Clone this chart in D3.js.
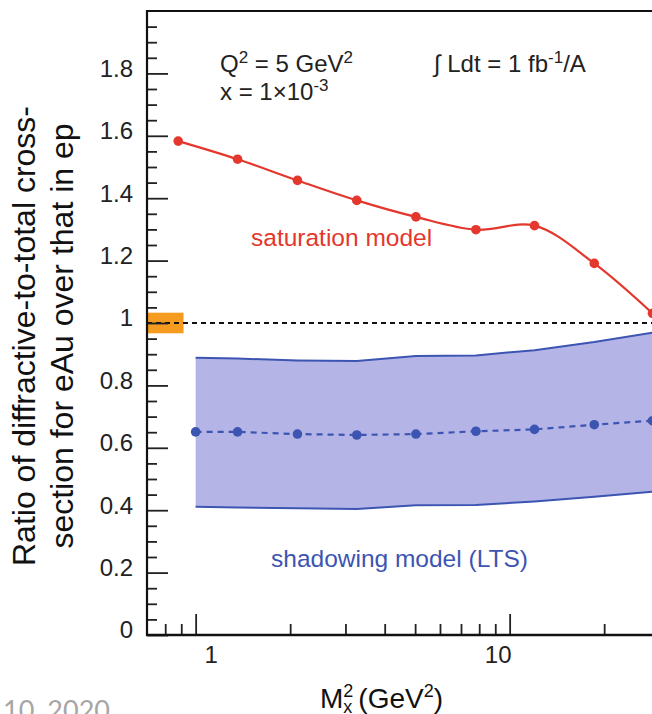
<!DOCTYPE html>
<html>
<head>
<meta charset="utf-8">
<script src="https://cdn.jsdelivr.net/npm/d3@7"></script>
<style>
  body { margin: 0; background: #fff; }
  svg { display: block; font-family: "Liberation Sans", Arial, sans-serif; }
</style>
</head>
<body>
<svg id="chart" width="652" height="714"></svg>
<script>
// saturation model (red), M_x^2 in GeV^2
var satMx2 = [0.88, 1.36, 2.11, 3.26, 5.03, 7.81, 12.0, 18.6, 28.5];
var satRatio = [1.583, 1.525, 1.457, 1.393, 1.340, 1.299, 1.312, 1.191, 1.031];

// shadowing model (LTS), blue, with its band
var shadMx2 = [1.0, 1.36, 2.11, 3.26, 5.03, 7.81, 12.0, 18.6, 28.5];
var shadRatio = [0.651, 0.651, 0.644, 0.641, 0.644, 0.653, 0.659, 0.674, 0.687];
var shadUpper = [0.889, 0.886, 0.880, 0.878, 0.894, 0.896, 0.913, 0.939, 0.969];
var shadLower = [0.411, 0.409, 0.406, 0.404, 0.416, 0.417, 0.428, 0.443, 0.459];

// normalisation uncertainty box at ratio = 1
var normUnc = 0.033;
var normBoxMx2 = [0.7, 0.915];

var yMajor = [0, 0.2, 0.4, 0.6, 0.8, 1.0, 1.2, 1.4, 1.6, 1.8];
var xMajor = [1, 10];
var xMinor = [0.8, 0.9, 2, 3, 4, 5, 6, 7, 8, 9, 20, 30, 40];

var svg = d3.select("#chart");

var plotLeft = 147, plotTop = 11, plotBottom = 635;
var decade = 314;

var x = d3.scaleLog()
    .domain([0.7, 40])
    .range([plotLeft, plotLeft + decade * Math.log10(40 / 0.7)]);
var y = d3.scaleLinear()
    .domain([0, 2])
    .range([plotBottom, plotTop]);

// orange normalisation box
svg.append("rect")
    .attr("x", x(normBoxMx2[0]))
    .attr("y", y(1 + normUnc))
    .attr("width", x(normBoxMx2[1]) - x(normBoxMx2[0]))
    .attr("height", y(1 - normUnc) - y(1 + normUnc))
    .style("fill", "#f59c20");

// reference line at 1
svg.append("line")
    .attr("x1", plotLeft).attr("x2", 652)
    .attr("y1", y(1)).attr("y2", y(1))
    .style("stroke", "#111")
    .style("stroke-width", 2)
    .style("stroke-dasharray", "5,4");

// shadowing band
var band = shadMx2.map(function (d, i) {
    return {mx: d, lo: shadLower[i], hi: shadUpper[i], v: shadRatio[i]};
});

var areaGen = d3.area()
    .x(function (d) { return x(d.mx); })
    .y0(function (d) { return y(d.lo); })
    .y1(function (d) { return y(d.hi); });

svg.append("path")
    .attr("d", areaGen(band))
    .style("fill", "#b5b4e6");

var edgeHi = d3.line()
    .x(function (d) { return x(d.mx); })
    .y(function (d) { return y(d.hi); });
var edgeLo = d3.line()
    .x(function (d) { return x(d.mx); })
    .y(function (d) { return y(d.lo); });

svg.append("path").attr("d", edgeHi(band))
    .style("fill", "none").style("stroke", "#3d55b2").style("stroke-width", 2);
svg.append("path").attr("d", edgeLo(band))
    .style("fill", "none").style("stroke", "#3d55b2").style("stroke-width", 2);

// shadowing central values
var shadLine = d3.line()
    .x(function (d) { return x(d.mx); })
    .y(function (d) { return y(d.v); });

svg.append("path").attr("d", shadLine(band))
    .style("fill", "none")
    .style("stroke", "#3d55b2")
    .style("stroke-width", 2.2)
    .style("stroke-dasharray", "6,5");

svg.selectAll("circle.shad").data(band).enter().append("circle")
    .attr("class", "shad")
    .attr("cx", function (d) { return x(d.mx); })
    .attr("cy", function (d) { return y(d.v); })
    .attr("r", 4.8)
    .style("fill", "#3d55b2");

// saturation model
var sat = satMx2.map(function (d, i) {
    return {mx: d, v: satRatio[i]};
});

var satLine = d3.line()
    .curve(d3.curveCatmullRom.alpha(0.5))
    .x(function (d) { return x(d.mx); })
    .y(function (d) { return y(d.v); });

svg.append("path").attr("d", satLine(sat))
    .style("fill", "none")
    .style("stroke", "#e4372d")
    .style("stroke-width", 2.2);

svg.selectAll("circle.sat").data(sat).enter().append("circle")
    .attr("class", "sat")
    .attr("cx", function (d) { return x(d.mx); })
    .attr("cy", function (d) { return y(d.v); })
    .attr("r", 4.8)
    .style("fill", "#e4372d");

// y axis (ticks point inward)
var yMinor = d3.range(1, 40).map(function (i) { return i * 0.05; })
    .filter(function (v) { return Math.round(v * 100) % 20 !== 0; });

svg.append("g")
    .attr("transform", "translate(" + plotLeft + ",0)")
    .call(d3.axisLeft(y).tickValues(yMinor).tickSizeInner(-10).tickSizeOuter(0).tickFormat(""))
    .call(function (g) { g.select(".domain").remove(); });

var yAx = svg.append("g")
    .attr("transform", "translate(" + plotLeft + ",0)")
    .call(d3.axisLeft(y).tickValues(yMajor).tickSizeInner(-21).tickSizeOuter(0).tickPadding(14)
        .tickFormat(function (d) { return String(+d.toFixed(1)); }));
yAx.select(".domain").remove();
yAx.selectAll("text")
    .attr("dy", "0.12em")
    .style("font-size", "24px")
    .style("fill", "#222")
    .style("font-family", "Liberation Sans, Arial, sans-serif");

// x axis
svg.append("g")
    .attr("transform", "translate(0," + plotBottom + ")")
    .call(d3.axisBottom(x).tickValues(xMinor).tickSizeInner(-11).tickSizeOuter(0).tickFormat(""))
    .call(function (g) { g.select(".domain").remove(); });

var xLabelShift = {1: 15, 10: -12};
var xAx = svg.append("g")
    .attr("transform", "translate(0," + plotBottom + ")")
    .call(d3.axisBottom(x).tickValues(xMajor).tickSizeInner(-21).tickSizeOuter(0).tickPadding(11)
        .tickFormat(function (d) { return String(d); }));
xAx.select(".domain").remove();
xAx.selectAll("text")
    .attr("dx", function (d) { return xLabelShift[d]; })
    .style("font-size", "24px")
    .style("fill", "#222")
    .style("font-family", "Liberation Sans, Arial, sans-serif");

svg.selectAll(".tick line").style("stroke", "#222").style("stroke-width", 1.8);

// frame: left, bottom and top spines
svg.append("line").attr("x1", plotLeft).attr("x2", plotLeft).attr("y1", plotTop - 1).attr("y2", plotBottom + 1)
    .style("stroke", "#111").style("stroke-width", 2.2);
svg.append("line").attr("x1", plotLeft - 1).attr("x2", 652).attr("y1", plotBottom).attr("y2", plotBottom)
    .style("stroke", "#111").style("stroke-width", 2.5);
svg.append("line").attr("x1", plotLeft - 1).attr("x2", 652).attr("y1", plotTop).attr("y2", plotTop)
    .style("stroke", "#111").style("stroke-width", 2.2);

// annotations
var t1 = svg.append("text").attr("x", 220).attr("y", 72)
    .style("font-size", "24px").style("fill", "#222");
t1.append("tspan").text("Q");
t1.append("tspan").attr("dy", -9).style("font-size", "17px").text("2");
t1.append("tspan").attr("dy", 9).text(" = 5 GeV");
t1.append("tspan").attr("dy", -9).style("font-size", "17px").text("2");

var t2 = svg.append("text").attr("x", 220).attr("y", 100)
    .style("font-size", "24px").style("fill", "#222");
t2.append("tspan").text("x = 1\u00d710");
t2.append("tspan").attr("dy", -9).style("font-size", "17px").text("-3");

var t3 = svg.append("text").attr("x", 434).attr("y", 72)
    .style("font-size", "24px").style("fill", "#222");
t3.append("tspan").text("\u222b Ldt = 1 fb");
t3.append("tspan").attr("dy", -9).style("font-size", "17px").text("-1");
t3.append("tspan").attr("dy", 9).text("/A");

svg.append("text").attr("x", 251).attr("y", 246)
    .style("font-size", "24.5px").style("fill", "#e4372d")
    .text("saturation model");

svg.append("text").attr("x", 271).attr("y", 567)
    .style("font-size", "24.5px").style("fill", "#3d55b2")
    .text("shadowing model (LTS)");

// axis titles
var yt = svg.append("text")
    .attr("transform", "translate(35,336) rotate(-90)")
    .attr("text-anchor", "middle")
    .style("font-size", "32px").style("fill", "#111");
yt.append("tspan").attr("x", 0).attr("y", 0).text("Ratio of diffractive-to-total cross-");
yt.append("tspan").attr("x", 0).attr("y", 38).text("section for eAu over that in ep");

var xt = svg.append("text").attr("x", 320).attr("y", 708)
    .style("font-size", "28px").style("fill", "#111");
xt.append("tspan").text("M");
xt.append("tspan").attr("dy", -11).style("font-size", "18px").text("2");
xt.append("tspan").attr("dx", -10).attr("dy", 16).style("font-size", "18px").text("x");
xt.append("tspan").attr("dx", 6).attr("dy", -5).text("(GeV");
xt.append("tspan").attr("dy", -11).style("font-size", "18px").text("2");
xt.append("tspan").attr("dy", 11).text(")");

// slide footer remnant
svg.append("text").attr("x", 3).attr("y", 720)
    .style("font-family", "Lato, 'Open Sans', sans-serif")
    .style("font-size", "27px").style("fill", "#a6a6a6")
    .text("10, 2020");
</script>
</body>
</html>
